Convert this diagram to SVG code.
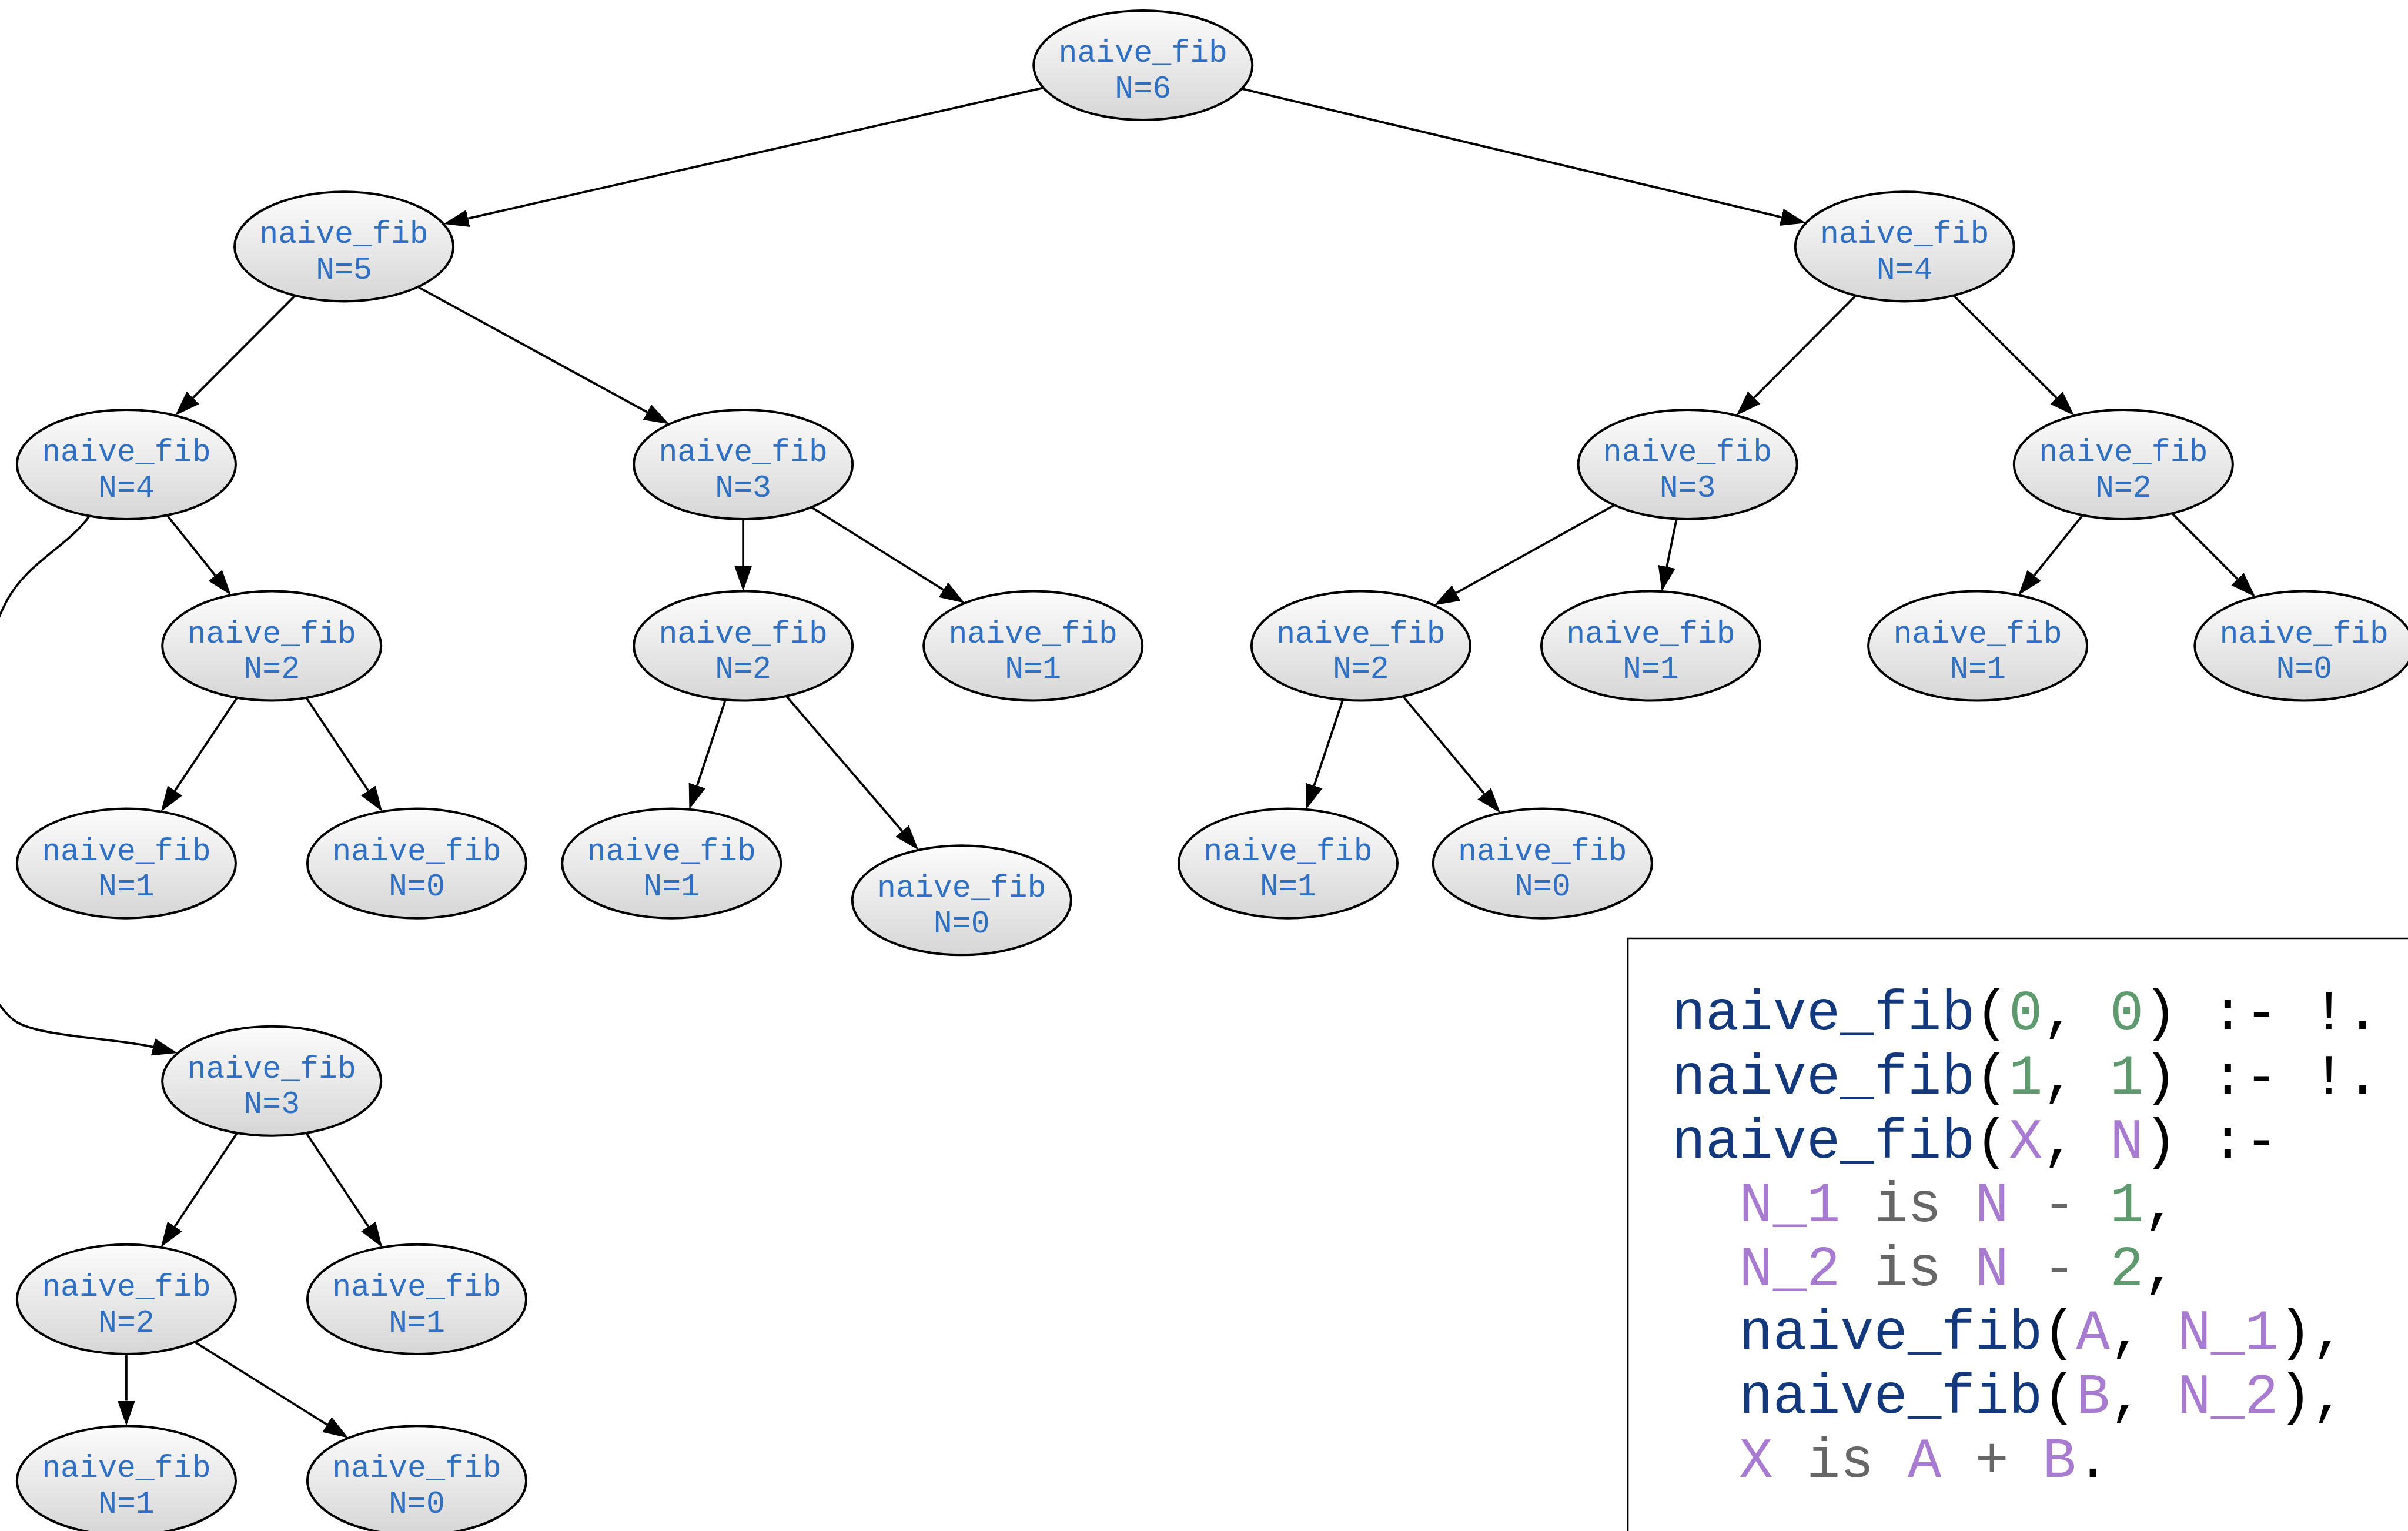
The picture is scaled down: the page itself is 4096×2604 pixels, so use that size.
<svg xmlns="http://www.w3.org/2000/svg" width="4096" height="2604" viewBox="0 0 4096 2604">
  <defs>
    <linearGradient id="nodeFill" x1="0" y1="0" x2="0" y2="1">
      <stop offset="0" stop-color="#fcfcfc"/>
      <stop offset="1" stop-color="#d6d6d6"/>
    </linearGradient>
    <marker id="arrow" markerUnits="userSpaceOnUse" markerWidth="46" markerHeight="34" refX="0" refY="17" orient="auto" viewBox="0 0 46 34">
      <polygon points="0,2 43,17 0,32" fill="#000"/>
    </marker>
    <style>
      .node ellipse { fill: url(#nodeFill); stroke: #000; stroke-width: 4; }
      .node text { font-family: "Liberation Mono", "DejaVu Sans Mono", monospace; font-size: 53.5px; fill: #3070c2; text-anchor: middle; }
      .edges path { fill: none; stroke: #000; stroke-width: 3.8; marker-end: url(#arrow); }
      .code { font-family: "Liberation Mono", "DejaVu Sans Mono", monospace; font-size: 96px; fill: #000; }
      .fn { fill: #14387c; }
      .num { fill: #5f9a6f; }
      .var { fill: #a77bd0; }
      .kw { fill: #666666; }
    </style>
  </defs>
  <rect width="4096" height="2604" fill="#ffffff"/>
  <g transform="scale(0.995)">
    <!-- call edges, parent to child -->
    <g class="edges" id="edges">
      <path d="M1783.7,150.1 L800.2,373.4"/>
      <path d="M2122.8,151.7 L3045.4,371.3"/>
      <path d="M504.5,505.2 L329.9,680.0"/>
      <path d="M714.3,490.4 L1106.4,704.5"/>
      <path d="M3172.6,505.2 L2998.7,679.8"/>
      <path d="M3339.9,505.1 L3515.6,680.1"/>
      <path d="M285.6,880.8 L368.0,983.7"/>
      <path d="M153,882 C115,935 45,962 10,1030 C-25,1098 -90,1300 -90,1400 C-90,1560 -20,1720 30,1748 C75,1773 200.7,1774.9 261.7,1789.8"/>
      <path d="M1270.5,887.5 L1270.5,967.5"/>
      <path d="M1387.2,867.0 L1612.8,1008.2"/>
      <path d="M2759.8,863.5 L2489.3,1013.7"/>
      <path d="M2866.1,887.0 L2849.5,968.9"/>
      <path d="M3560.3,880.8 L3477.6,983.7"/>
      <path d="M3713.4,877.7 L3825.2,989.9"/>
      <path d="M405.3,1192.7 L299.1,1351.6"/>
      <path d="M523.6,1192.7 L629.5,1351.5"/>
      <path d="M1240.1,1196.3 L1191.8,1342.9"/>
      <path d="M1344.3,1189.9 L1542.2,1420.5"/>
      <path d="M2295.6,1196.2 L2246.5,1343.0"/>
      <path d="M2398.5,1190.3 L2537.4,1356.7"/>
      <path d="M405.4,1936.7 L298.9,2096.5"/>
      <path d="M523.5,1936.7 L629.7,2096.5"/>
      <path d="M216,2314.5 L216,2394.5"/>
      <path d="M332.9,2294.0 L559.1,2435.2"/>
    </g>

    <g class="node" id="n6"><ellipse cx="1954" cy="111.5" rx="187" ry="93.5"/><text x="1954" y="105.5">naive_fib</text><text x="1954" y="166.5">N=6</text></g>
    <g class="node" id="n5"><ellipse cx="588" cy="421.5" rx="187" ry="93.5"/><text x="588" y="415.5">naive_fib</text><text x="588" y="476.5">N=5</text></g>
    <g class="node" id="n4r"><ellipse cx="3256" cy="421.5" rx="187" ry="93.5"/><text x="3256" y="415.5">naive_fib</text><text x="3256" y="476.5">N=4</text></g>
    <g class="node" id="n4l"><ellipse cx="216" cy="794" rx="187" ry="93.5"/><text x="216" y="788">naive_fib</text><text x="216" y="849">N=4</text></g>
    <g class="node" id="n3a"><ellipse cx="1270.5" cy="794" rx="187" ry="93.5"/><text x="1270.5" y="788">naive_fib</text><text x="1270.5" y="849">N=3</text></g>
    <g class="node" id="n3r"><ellipse cx="2885" cy="794" rx="187" ry="93.5"/><text x="2885" y="788">naive_fib</text><text x="2885" y="849">N=3</text></g>
    <g class="node" id="n2r"><ellipse cx="3630" cy="794" rx="187" ry="93.5"/><text x="3630" y="788">naive_fib</text><text x="3630" y="849">N=2</text></g>
    <g class="node" id="n2a"><ellipse cx="464.5" cy="1104" rx="187" ry="93.5"/><text x="464.5" y="1098">naive_fib</text><text x="464.5" y="1159">N=2</text></g>
    <g class="node" id="n2b"><ellipse cx="1270.5" cy="1104" rx="187" ry="93.5"/><text x="1270.5" y="1098">naive_fib</text><text x="1270.5" y="1159">N=2</text></g>
    <g class="node" id="n1a"><ellipse cx="1766" cy="1104" rx="187" ry="93.5"/><text x="1766" y="1098">naive_fib</text><text x="1766" y="1159">N=1</text></g>
    <g class="node" id="n2c"><ellipse cx="2326.5" cy="1104" rx="187" ry="93.5"/><text x="2326.5" y="1098">naive_fib</text><text x="2326.5" y="1159">N=2</text></g>
    <g class="node" id="n1b"><ellipse cx="2822" cy="1104" rx="187" ry="93.5"/><text x="2822" y="1098">naive_fib</text><text x="2822" y="1159">N=1</text></g>
    <g class="node" id="n1c"><ellipse cx="3381" cy="1104" rx="187" ry="93.5"/><text x="3381" y="1098">naive_fib</text><text x="3381" y="1159">N=1</text></g>
    <g class="node" id="n0a"><ellipse cx="3939" cy="1104" rx="187" ry="93.5"/><text x="3939" y="1098">naive_fib</text><text x="3939" y="1159">N=0</text></g>
    <g class="node" id="n1d"><ellipse cx="216" cy="1476" rx="187" ry="93.5"/><text x="216" y="1470">naive_fib</text><text x="216" y="1531">N=1</text></g>
    <g class="node" id="n0b"><ellipse cx="712.5" cy="1476" rx="187" ry="93.5"/><text x="712.5" y="1470">naive_fib</text><text x="712.5" y="1531">N=0</text></g>
    <g class="node" id="n1e"><ellipse cx="1148" cy="1476" rx="187" ry="93.5"/><text x="1148" y="1470">naive_fib</text><text x="1148" y="1531">N=1</text></g>
    <g class="node" id="n0c"><ellipse cx="1644" cy="1539" rx="187" ry="93.5"/><text x="1644" y="1533">naive_fib</text><text x="1644" y="1594">N=0</text></g>
    <g class="node" id="n1f"><ellipse cx="2202" cy="1476" rx="187" ry="93.5"/><text x="2202" y="1470">naive_fib</text><text x="2202" y="1531">N=1</text></g>
    <g class="node" id="n0d"><ellipse cx="2637" cy="1476" rx="187" ry="93.5"/><text x="2637" y="1470">naive_fib</text><text x="2637" y="1531">N=0</text></g>
    <g class="node" id="n3b"><ellipse cx="464.5" cy="1848" rx="187" ry="93.5"/><text x="464.5" y="1842">naive_fib</text><text x="464.5" y="1903">N=3</text></g>
    <g class="node" id="n2d"><ellipse cx="216" cy="2221" rx="187" ry="93.5"/><text x="216" y="2215">naive_fib</text><text x="216" y="2276">N=2</text></g>
    <g class="node" id="n1g"><ellipse cx="712.5" cy="2221" rx="187" ry="93.5"/><text x="712.5" y="2215">naive_fib</text><text x="712.5" y="2276">N=1</text></g>
    <g class="node" id="n1h"><ellipse cx="216" cy="2531" rx="187" ry="93.5"/><text x="216" y="2525">naive_fib</text><text x="216" y="2586">N=1</text></g>
    <g class="node" id="n0e"><ellipse cx="712.5" cy="2531" rx="187" ry="93.5"/><text x="712.5" y="2525">naive_fib</text><text x="712.5" y="2586">N=0</text></g>

    <!-- Prolog source listing -->
    <g id="code">
      <rect x="2783" y="1604" width="1500" height="1200" fill="#ffffff" stroke="#000" stroke-width="2.5"/>
      <text class="code" x="2858" y="1760" xml:space="preserve"><tspan class="fn">naive_fib</tspan>(<tspan class="num">0</tspan>, <tspan class="num">0</tspan>) :- !.</text>
      <text class="code" x="2858" y="1869.2" xml:space="preserve"><tspan class="fn">naive_fib</tspan>(<tspan class="num">1</tspan>, <tspan class="num">1</tspan>) :- !.</text>
      <text class="code" x="2858" y="1978.4" xml:space="preserve"><tspan class="fn">naive_fib</tspan>(<tspan class="var">X</tspan>, <tspan class="var">N</tspan>) :-</text>
      <text class="code" x="2973.2" y="2087.6" xml:space="preserve"><tspan class="var">N_1</tspan> <tspan class="kw">is</tspan> <tspan class="var">N</tspan> <tspan class="kw">-</tspan> <tspan class="num">1</tspan>,</text>
      <text class="code" x="2973.2" y="2196.8" xml:space="preserve"><tspan class="var">N_2</tspan> <tspan class="kw">is</tspan> <tspan class="var">N</tspan> <tspan class="kw">-</tspan> <tspan class="num">2</tspan>,</text>
      <text class="code" x="2973.2" y="2306" xml:space="preserve"><tspan class="fn">naive_fib</tspan>(<tspan class="var">A</tspan>, <tspan class="var">N_1</tspan>),</text>
      <text class="code" x="2973.2" y="2415.2" xml:space="preserve"><tspan class="fn">naive_fib</tspan>(<tspan class="var">B</tspan>, <tspan class="var">N_2</tspan>),</text>
      <text class="code" x="2973.2" y="2524.4" xml:space="preserve"><tspan class="var">X</tspan> <tspan class="kw">is</tspan> <tspan class="var">A</tspan> <tspan class="kw">+</tspan> <tspan class="var">B</tspan>.</text>
    </g>
  </g>
</svg>
